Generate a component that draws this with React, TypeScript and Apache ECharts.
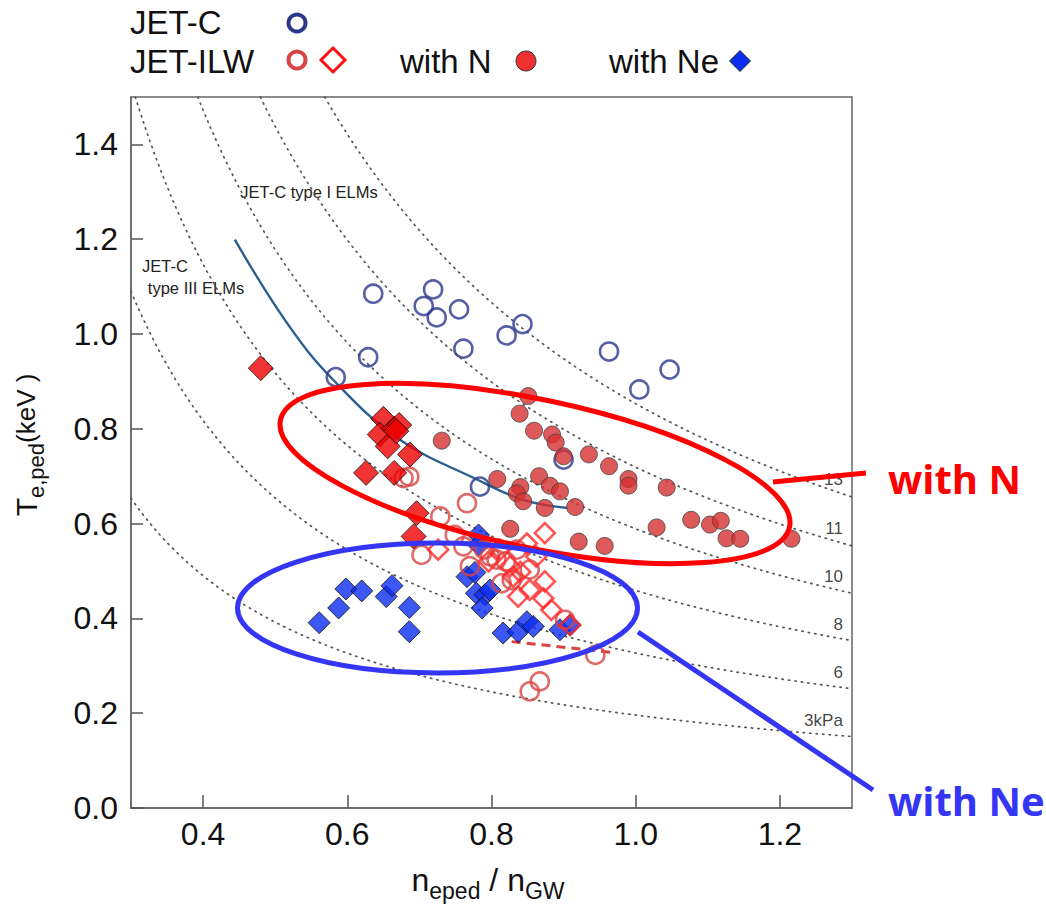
import React, { useEffect, useRef } from "react";
import * as echarts from "echarts";

// ---- axis ticks ----
const xTicks = [0.4, 0.6, 0.8, 1.0, 1.2];
const yTicks = [0, 0.2, 0.4, 0.6, 0.8, 1.0, 1.2, 1.4];

// ---- data (n_eped/n_GW, Te,ped keV) ----
const jetC = [
  [0.636, 1.085], [0.719, 1.094], [0.706, 1.059], [0.724, 1.035], [0.755, 1.052],
  [0.761, 0.969], [0.821, 0.997], [0.843, 1.021], [0.629, 0.951], [0.584, 0.909],
  [0.900, 0.735], [0.963, 0.963], [1.047, 0.925], [1.005, 0.883], [0.784, 0.678],
];

const jetIlwCircles = [
  [0.678, 0.696], [0.686, 0.699], [0.766, 0.643], [0.729, 0.615], [0.703, 0.534],
  [0.749, 0.576], [0.761, 0.552], [0.770, 0.510], [0.798, 0.531], [0.807, 0.524],
  [0.814, 0.474], [0.828, 0.481], [0.853, 0.503], [0.835, 0.545], [0.902, 0.397],
  [0.944, 0.323], [0.853, 0.246], [0.867, 0.267], [0.790, 0.545], [0.820, 0.520],
];

const jetIlwDiamonds = [
  [0.874, 0.580], [0.726, 0.545], [0.849, 0.558], [0.796, 0.520], [0.826, 0.510],
  [0.874, 0.478], [0.837, 0.446], [0.853, 0.460], [0.872, 0.442], [0.883, 0.418],
  [0.909, 0.386], [0.812, 0.545], [0.830, 0.488], [0.840, 0.498], [0.862, 0.530],
];

const withN = [
  [0.851, 0.869], [0.839, 0.832], [0.859, 0.796], [0.884, 0.788], [0.889, 0.771],
  [0.900, 0.742], [0.731, 0.775], [0.808, 0.694], [0.866, 0.700], [0.935, 0.746],
  [0.963, 0.721], [0.990, 0.694], [0.990, 0.680], [1.043, 0.676], [0.881, 0.680],
  [0.895, 0.668], [0.874, 0.633], [0.916, 0.635], [1.029, 0.592], [1.077, 0.608],
  [1.103, 0.598], [1.118, 0.606], [1.126, 0.569], [1.145, 0.568], [1.216, 0.568],
  [0.921, 0.562], [0.957, 0.553], [0.840, 0.677], [0.835, 0.664], [0.844, 0.647],
  [0.826, 0.589],
];

const withNDiamonds = [
  [0.480, 0.928], [0.650, 0.821], [0.645, 0.788], [0.656, 0.763], [0.665, 0.800],
  [0.672, 0.808], [0.668, 0.795], [0.687, 0.746], [0.626, 0.707], [0.665, 0.707],
  [0.696, 0.622], [0.692, 0.573],
];

const withNe = [
  [0.561, 0.391], [0.588, 0.422], [0.598, 0.462], [0.620, 0.458], [0.654, 0.446],
  [0.662, 0.469], [0.686, 0.423], [0.686, 0.372], [0.766, 0.488], [0.777, 0.497],
  [0.779, 0.453], [0.791, 0.450], [0.798, 0.460], [0.787, 0.422], [0.782, 0.576],
  [0.782, 0.555], [0.816, 0.369], [0.837, 0.372], [0.849, 0.393], [0.858, 0.383],
  [0.895, 0.376], [0.909, 0.386],
];

const typeIIIBoundary = [
  [0.444, 1.199], [0.516, 1.024], [0.580, 0.904], [0.673, 0.777],
  [0.780, 0.693], [0.844, 0.650], [0.905, 0.633],
];

const dashedFit = [[0.828, 0.351], [0.969, 0.328]];

// constant-pressure curves: Te = level / n
const isobarLevels = [0.196, 0.327, 0.459, 0.589, 0.719, 0.853];
const isobarLabels = ["3kPa", "6", "8", "10", "11", "13"];
const isobarLabelAt = 1.288;

const FONT = "'Liberation Sans', Arial, Helvetica, sans-serif";

function buildOption() {
  const isobarSeries = isobarLevels.map((c) => {
    const data: number[][] = [];
    const start = Math.max(0.3, c / 1.5);
    const steps = 200;
    for (let i = 0; i <= steps; i++) {
      const n = start + ((1.3 - start) * i) / steps;
      data.push([n, c / n]);
    }
    return {
      type: "line",
      data,
      symbol: "none",
      silent: true,
      z: 1,
      lineStyle: { color: "#555", width: 1.7, type: [1.3, 5.2], cap: "round" },
    };
  });

  const ringStyle = (color: string) => ({
    color: "rgba(0,0,0,0)",
    borderColor: color,
    borderWidth: 2.6,
  });

  const diamondPts = (cx: number, cy: number, r: number) => [
    [cx, cy - r], [cx + r, cy], [cx, cy + r], [cx - r, cy],
  ];

  const legendText = (text: string, x: number, y: number) => ({
    type: "text",
    x,
    y,
    style: { text, font: `33px ${FONT}`, fill: "#111", verticalAlign: "middle", align: "left" },
  });

  return {
    animation: false,
    backgroundColor: "#ffffff",
    grid: {
      left: 131, top: 97, right: 194, bottom: 98,
      show: true, borderColor: "#666", borderWidth: 1.5, containLabel: false,
    },
    xAxis: {
      type: "value",
      min: 0.3,
      max: 1.3,
      axisLine: { show: true, lineStyle: { color: "#666", width: 1.5 } },
      axisTick: { show: true, inside: true, length: 13, customValues: xTicks, lineStyle: { color: "#555", width: 1.5 } },
      axisLabel: {
        customValues: xTicks,
        formatter: (v: number) => v.toFixed(1),
        fontSize: 32, fontFamily: FONT, color: "#111", margin: 10,
      },
      splitLine: { show: false },
    },
    yAxis: {
      type: "value",
      min: 0,
      max: 1.5,
      axisLine: { show: true, lineStyle: { color: "#666", width: 1.5 } },
      axisTick: { show: true, inside: true, length: 12, customValues: yTicks, lineStyle: { color: "#555", width: 1.5 } },
      axisLabel: {
        customValues: yTicks,
        formatter: (v: number) => v.toFixed(1),
        fontSize: 32, fontFamily: FONT, color: "#111", margin: 13,
      },
      splitLine: { show: false },
    },
    series: [
      ...isobarSeries,
      {
        type: "scatter",
        silent: true,
        z: 2,
        symbolSize: 1,
        itemStyle: { color: "rgba(0,0,0,0)" },
        data: isobarLevels.map((c, i) => ({ value: [isobarLabelAt, c / isobarLabelAt], name: isobarLabels[i] })),
        label: {
          show: true, formatter: "{b}", position: [0, -6], align: "right", verticalAlign: "bottom",
          fontSize: 17, fontFamily: FONT, color: "#111",
        },
      },
      {
        type: "line",
        name: "JET-C type III boundary",
        data: typeIIIBoundary,
        smooth: 0.4,
        symbol: "none",
        z: 3,
        lineStyle: { color: "#2a5f92", width: 2.4 },
      },
      {
        type: "line",
        name: "fit",
        data: dashedFit,
        symbol: "none",
        z: 3,
        lineStyle: { color: "#dd4040", width: 3, type: [9, 6] },
      },
      {
        type: "scatter", name: "JET-C", data: jetC, symbol: "circle", symbolSize: 18, z: 4,
        itemStyle: ringStyle("#2c378c"),
      },
      {
        type: "scatter", name: "with Ne", data: withNe, symbol: "diamond", symbolSize: 22, z: 5,
        itemStyle: { color: "#0b2df0", borderColor: "#111", borderWidth: 1 },
      },
      {
        type: "scatter", name: "JET-ILW", data: jetIlwCircles, symbol: "circle", symbolSize: 18, z: 6,
        itemStyle: ringStyle("#d84343"),
      },
      {
        type: "scatter", name: "JET-ILW diamonds", data: jetIlwDiamonds, symbol: "diamond", symbolSize: 20, z: 6,
        itemStyle: ringStyle("#ff2a2a"),
      },
      {
        type: "scatter", name: "with N (diamond)", data: withNDiamonds, symbol: "diamond", symbolSize: 25, z: 7,
        itemStyle: { color: "#ee0000", borderColor: "#111", borderWidth: 1 },
      },
      {
        type: "scatter", name: "with N", data: withN, symbol: "circle", symbolSize: 17, z: 8,
        itemStyle: { color: "#d63030", borderColor: "#444", borderWidth: 1 },
      },
    ],
    graphic: [
      // legend
      legendText("JET-C", 130, 22),
      { type: "circle", shape: { cx: 297, cy: 23, r: 8.5 }, style: { fill: "none", stroke: "#2c378c", lineWidth: 4 } },
      legendText("JET-ILW", 130, 61),
      { type: "circle", shape: { cx: 297, cy: 60, r: 8.5 }, style: { fill: "none", stroke: "#d84343", lineWidth: 4 } },
      { type: "polygon", shape: { points: diamondPts(333, 60, 12) }, style: { fill: "none", stroke: "#ff1010", lineWidth: 3 } },
      legendText("with N", 400, 61),
      { type: "circle", shape: { cx: 526, cy: 61, r: 10 }, style: { fill: "#ee3030", stroke: "#333", lineWidth: 1 } },
      legendText("with Ne", 609, 61),
      { type: "polygon", shape: { points: diamondPts(740, 61, 10.5) }, style: { fill: "#0b2df0", stroke: "#222", lineWidth: 1 } },

      // region labels
      { type: "text", x: 309, y: 192, style: { text: "JET-C type I ELMs", font: `16.5px ${FONT}`, fill: "#222", align: "center", verticalAlign: "middle" } },
      { type: "text", x: 165, y: 266, style: { text: "JET-C", font: `16.5px ${FONT}`, fill: "#222", align: "center", verticalAlign: "middle" } },
      { type: "text", x: 196, y: 288, style: { text: "type III ELMs", font: `16.5px ${FONT}`, fill: "#222", align: "center", verticalAlign: "middle" } },

      // axis titles
      {
        type: "text", x: 488, y: 880,
        style: {
          text: "{a|n}{b|eped}{a| / n}{b|GW}",
          align: "center", verticalAlign: "middle",
          rich: {
            a: { fontSize: 32, fontFamily: FONT, fill: "#111", color: "#111" },
            b: { fontSize: 23, fontFamily: FONT, fill: "#111", color: "#111", padding: [22, 0, 0, 0] },
          },
        },
      },
      {
        type: "text", x: 26, y: 445, rotation: Math.PI / 2,
        style: {
          text: "{a|T}{b|e,ped}{c|(keV )}",
          align: "center", verticalAlign: "middle",
          rich: {
            a: { fontSize: 30, fontFamily: FONT, fill: "#111", color: "#111" },
            b: { fontSize: 22, fontFamily: FONT, fill: "#111", color: "#111", padding: [20, 0, 0, 0] },
            c: { fontSize: 26, fontFamily: FONT, fill: "#111", color: "#111" },
          },
        },
      },

      // annotations
      { type: "ellipse", x: 535, y: 473.5, rotation: -0.207, shape: { cx: 0, cy: 0, rx: 260, ry: 74 }, style: { fill: "none", stroke: "#ff0000", lineWidth: 5 }, z: 100 },
      { type: "line", shape: { x1: 773, y1: 482, x2: 866, y2: 473 }, style: { stroke: "#ff0000", lineWidth: 5 }, z: 100 },
      { type: "text", x: 888, y: 478, style: { text: "with N", font: `bold 40px 'Open Sans', sans-serif`, fill: "#ff0000", verticalAlign: "middle", align: "left" }, z: 100 },
      { type: "ellipse", x: 437.5, y: 608, shape: { cx: 0, cy: 0, rx: 200, ry: 65 }, style: { fill: "none", stroke: "#3535f5", lineWidth: 5 }, z: 100 },
      { type: "line", shape: { x1: 638, y1: 632, x2: 873, y2: 790 }, style: { stroke: "#3535f5", lineWidth: 5 }, z: 100 },
      { type: "text", x: 888, y: 800, style: { text: "with Ne", font: `bold 40px 'Open Sans', sans-serif`, fill: "#3535f5", verticalAlign: "middle", align: "left" }, z: 100 },
    ],
  };
}

export default function App() {
  const ref = useRef<HTMLDivElement>(null);
  useEffect(() => {
    if (!ref.current) return;
    const chart = echarts.init(ref.current, null, { renderer: "svg" });
    chart.setOption(buildOption() as any);
    return () => chart.dispose();
  }, []);
  return (
    <div
      ref={ref}
      style={{ position: "fixed", left: 0, top: 0, width: 1046, height: 906, background: "#fff" }}
    />
  );
}
